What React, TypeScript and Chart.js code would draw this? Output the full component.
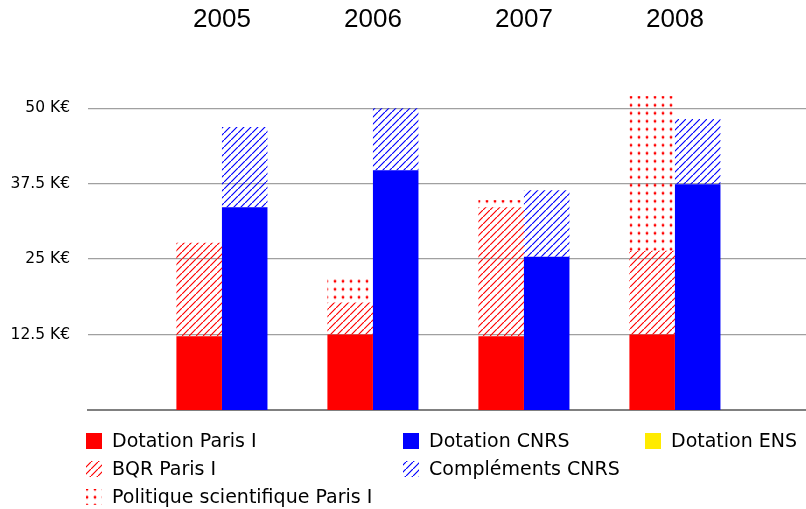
import React, { useEffect, useRef } from "react";
import { Chart, registerables } from "chart.js";
Chart.register(...registerables);

const years = [2005, 2006, 2007, 2008];
const dotationParis = [12.2, 12.5, 12.2, 12.5];
const bqrParis = [15.5, 5.3, 21.4, 13.9];
const politiqueParis = [0, 3.9, 1.2, 25.6];
const dotationCNRS = [33.6, 39.7, 25.4, 37.4];
const complementsCNRS = [13.3, 10.3, 11.0, 10.8];
const dotationENS = [0, 0, 0, 0];
const yTicks = [12.5, 25, 37.5, 50];

const RED = "#ff0000";
const BLUE = "#0000ff";
const YELLOW = "#ffeb00";

function hatch(color: string) {
  const c = document.createElement("canvas");
  c.width = 7;
  c.height = 7;
  const ctx = c.getContext("2d")!;
  ctx.strokeStyle = color;
  ctx.lineWidth = 1.2;
  ctx.beginPath();
  ctx.moveTo(-1, 8);
  ctx.lineTo(8, -1);
  ctx.moveTo(-2, 1);
  ctx.lineTo(1, -2);
  ctx.moveTo(6, 9);
  ctx.lineTo(9, 6);
  ctx.stroke();
  return ctx.createPattern(c, "repeat")!;
}

function dots(color: string) {
  const c = document.createElement("canvas");
  c.width = 8;
  c.height = 8;
  const ctx = c.getContext("2d")!;
  ctx.fillStyle = color;
  ctx.beginPath();
  ctx.arc(4, 4, 1.4, 0, Math.PI * 2);
  ctx.fill();
  const p = ctx.createPattern(c, "repeat")!;
  try {
    p.setTransform(new DOMMatrix().translate(3, 5.3));
  } catch (e) {}
  return p;
}

const pairs = (vals: number[]) => years.map((x, i) => ({ x, y: vals[i] }));

export default function App() {
  const ref = useRef<HTMLCanvasElement>(null);
  useEffect(() => {
    const hatchRed = hatch(RED);
    const hatchBlue = hatch(BLUE);
    const dotRed = dots(RED);

    const legendItems = [
      { label: "Dotation Paris I", fill: RED as any, col: 0, row: 0 },
      { label: "Dotation CNRS", fill: BLUE as any, col: 1, row: 0 },
      { label: "Dotation ENS", fill: YELLOW as any, col: 2, row: 0 },
      { label: "BQR Paris I", fill: hatchRed as any, col: 0, row: 1 },
      { label: "Compléments CNRS", fill: hatchBlue as any, col: 1, row: 1 },
      { label: "Politique scientifique Paris I", fill: dotRed as any, col: 0, row: 2 },
    ];

    const overlay = {
      id: "overlay",
      afterDraw(chart: any) {
        const ctx = chart.ctx;
        const xs = chart.scales.x;
        ctx.save();
        ctx.fillStyle = "#000";
        ctx.font = "26px 'Liberation Sans', Arial, sans-serif";
        ctx.textAlign = "center";
        ctx.textBaseline = "middle";
        years.forEach((yr) => {
          ctx.fillText(String(yr), xs.getPixelForValue(yr), 20);
        });
        const colX = [86, 403, 645];
        const rowY = [441, 469, 497];
        ctx.font = "19px 'DejaVu Sans', sans-serif";
        ctx.textAlign = "left";
        legendItems.forEach((it) => {
          const x = colX[it.col];
          const y = rowY[it.row];
          ctx.fillStyle = it.fill;
          ctx.fillRect(x, y - 8, 16, 16);
          ctx.fillStyle = "#000";
          ctx.fillText(it.label, x + 26, y + 1);
        });
        ctx.restore();
      },
    };

    const chart = new Chart(ref.current!, {
      type: "bar",
      data: {
        datasets: [
          { label: "Dotation Paris I", data: pairs(dotationParis) as any, backgroundColor: RED, stack: "paris" },
          { label: "BQR Paris I", data: pairs(bqrParis) as any, backgroundColor: hatchRed as any, stack: "paris" },
          { label: "Politique scientifique Paris I", data: pairs(politiqueParis) as any, backgroundColor: dotRed as any, stack: "paris" },
          { label: "Dotation ENS", data: pairs(dotationENS) as any, backgroundColor: YELLOW, stack: "paris" },
          { label: "Dotation CNRS", data: pairs(dotationCNRS) as any, backgroundColor: BLUE, stack: "cnrs" },
          { label: "Compléments CNRS", data: pairs(complementsCNRS) as any, backgroundColor: hatchBlue as any, stack: "cnrs" },
        ],
      },
      options: {
        animation: false,
        responsive: false,
        datasets: { bar: { barPercentage: 1, categoryPercentage: 0.603, borderWidth: 0 } },
        layout: { padding: { top: 78, bottom: 99, left: 0, right: 0 } },
        plugins: { legend: { display: false }, tooltip: { enabled: false }, title: { display: false } },
        scales: {
          x: {
            type: "linear",
            min: 2004.113,
            max: 2008.868,
            offset: false,
            afterBuildTicks: (s: any) => {
              s.ticks = years.map((v) => ({ value: v }));
            },
            ticks: { display: false },
            grid: { display: false },
            border: { display: true, color: "#808080", width: 2 },
            afterFit: (s: any) => {
              s.height = 0;
            },
          },
          y: {
            stacked: true,
            min: 0,
            max: 55,
            afterBuildTicks: (s: any) => {
              s.ticks = yTicks.map((v) => ({ value: v }));
            },
            ticks: {
              padding: 18,
              color: "#000",
              font: { family: "'DejaVu Sans', sans-serif", size: 15.5 },
              callback: (v: any) => `${v} K€`,
            },
            grid: { color: "#a0a0a0", lineWidth: 1.2, drawTicks: false },
            border: { display: false },
            afterFit: (s: any) => {
              s.width = 88;
            },
          },
        },
      },
      plugins: [overlay],
    });
    return () => chart.destroy();
  }, []);
  return (
    <div style={{ position: "absolute", left: 0, top: 0, width: 806, height: 509 }}>
      <canvas ref={ref} width={806} height={509} />
    </div>
  );
}
